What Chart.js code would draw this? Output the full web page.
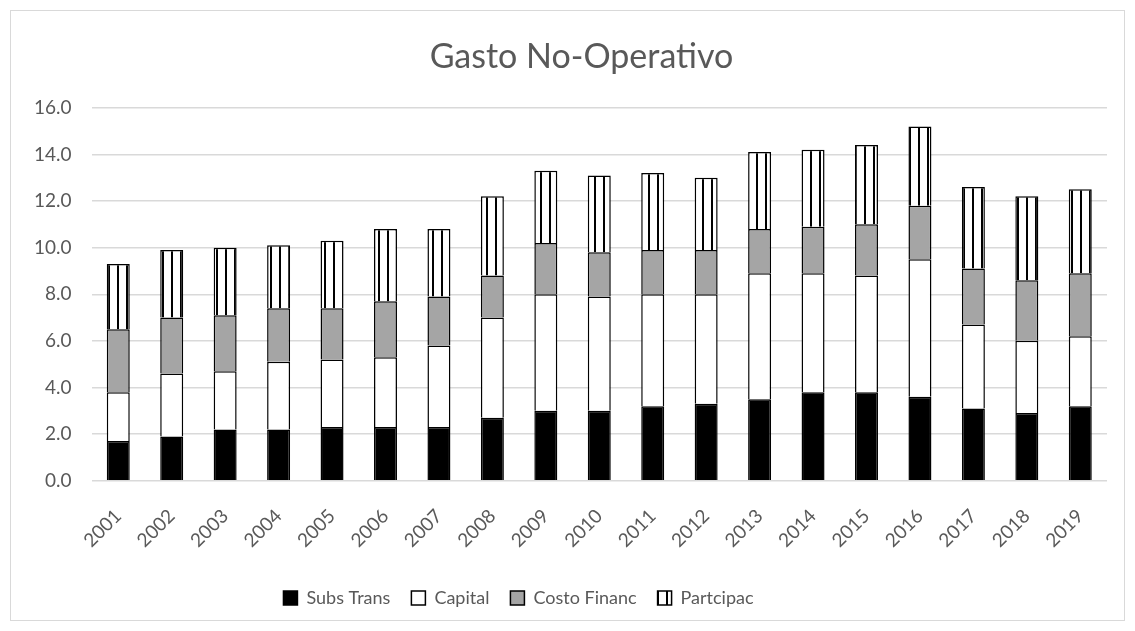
<!DOCTYPE html>
<html><head><meta charset="utf-8">
<script src="https://cdn.jsdelivr.net/npm/chart.js@4/dist/chart.umd.min.js"></script>
<style>html,body{margin:0;padding:0;background:#fff}#wrap{width:1135px;height:631px;position:relative}</style>
</head><body><div id="wrap"><canvas id="c" width="1135" height="631"></canvas></div>
<script>
const categories = ['2001','2002','2003','2004','2005','2006','2007','2008','2009','2010','2011','2012','2013','2014','2015','2016','2017','2018','2019'];
const subsTrans = [1.7,1.9,2.2,2.2,2.3,2.3,2.3,2.7,3.0,3.0,3.2,3.3,3.5,3.8,3.8,3.6,3.1,2.9,3.2];
const capital   = [2.1,2.7,2.5,2.9,2.9,3.0,3.5,4.3,5.0,4.9,4.8,4.7,5.4,5.1,5.0,5.9,3.6,3.1,3.0];
const costoFin  = [2.7,2.4,2.4,2.3,2.2,2.4,2.1,1.8,2.2,1.9,1.9,1.9,1.9,2.0,2.2,2.3,2.4,2.6,2.7];
const partcipac = [2.8,2.9,2.9,2.7,2.9,3.1,2.9,3.4,3.1,3.3,3.3,3.1,3.3,3.3,3.4,3.4,3.5,3.6,3.6];
const yTicks = [0,2,4,6,8,10,12,14,16];

function stripePattern(){
  const p = document.createElement('canvas');
  p.width = 9; p.height = 9;
  const g = p.getContext('2d');
  g.fillStyle = '#fff'; g.fillRect(0,0,9,9);
  g.fillStyle = '#000'; g.fillRect(0,0,2,9);
  return document.getElementById('c').getContext('2d').createPattern(p,'repeat');
}
const stripes = stripePattern();

const frame = {
  id:'frame',
  beforeDraw(chart){
    const ctx = chart.ctx;
    ctx.save();
    ctx.fillStyle='#fff'; ctx.fillRect(0,0,chart.width,chart.height);
    ctx.strokeStyle='#d9d9d9'; ctx.lineWidth=1;
    ctx.strokeRect(10.5,10.5,chart.width-21,chart.height-21);
    ctx.restore();
  },
  afterLayout(chart){
    if (chart.legend){ chart.legend.left -= 42; chart.legend.right -= 42; }
    if (chart.titleBlock){ chart.titleBlock.left += 21; chart.titleBlock.right += 21; }
  }
};

const common = {borderColor:'#000', borderWidth:1.5, barPercentage:0.43, categoryPercentage:1};
new Chart(document.getElementById('c'), {
  type:'bar',
  data:{
    labels:categories,
    datasets:[
      Object.assign({label:'Subs Trans', data:subsTrans, backgroundColor:'#000'}, common),
      Object.assign({label:'Capital', data:capital, backgroundColor:'#fff'}, common),
      Object.assign({label:'Costo Financ', data:costoFin, backgroundColor:'#a5a5a5'}, common),
      Object.assign({label:'Partcipac', data:partcipac, backgroundColor:stripes}, common)
    ]
  },
  plugins:[frame],
  options:{
    responsive:false, animation:false,
    layout:{padding:{left:14,right:28,top:16,bottom:14}},
    plugins:{
      title:{display:true, text:'Gasto No-Operativo', color:'#595959', font:{family:'Lato', size:34, weight:'normal'}, padding:{top:21,bottom:30}},
      legend:{position:'bottom', labels:{color:'#595959', font:{family:'Lato', size:18}, boxWidth:14, boxHeight:14, padding:21, useBorderRadius:false}},
      tooltip:{enabled:false}
    },
    scales:{
      x:{stacked:true, grid:{display:false}, border:{display:false},
         ticks:{color:'#595959', font:{family:'Lato', size:19}, maxRotation:45, minRotation:45, padding:16}},
      y:{stacked:true, min:0, max:16, grid:{color:'#d9d9d9', lineWidth:1.5, drawTicks:false}, border:{display:false},
         afterBuildTicks(s){ s.ticks = yTicks.map(v=>({value:v})); },
         ticks:{color:'#595959', font:{family:'Lato', size:19}, padding:20, callback:v=>Number(v).toFixed(1)}}
    }
  }
});
</script></body></html>
